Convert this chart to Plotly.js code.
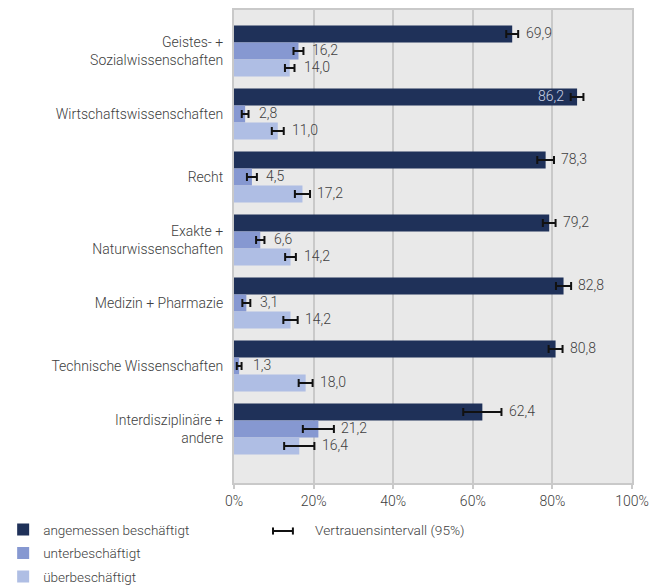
<!DOCTYPE html>
<html>
<head>
<meta charset="utf-8">
<script src="https://cdn.plot.ly/plotly-3.0.1.min.js"></script>
<style>html,body{margin:0;padding:0;background:#fff;}#chart{width:662px;height:585px;}</style>
</head>
<body>
<div id="chart"></div>
<script>
const categories = [
  "Geistes- +<br>Sozialwissenschaften",
  "Wirtschaftswissenschaften",
  "Recht",
  "Exakte +<br>Naturwissenschaften",
  "Medizin + Pharmazie",
  "Technische Wissenschaften",
  "Interdisziplinäre +<br>andere"
];
const seriesNames = ["angemessen beschäftigt", "unterbeschäftigt", "überbeschäftigt"];
const angemessen = [69.9, 86.2, 78.3, 79.2, 82.8, 80.8, 62.4];
const unter      = [16.2, 2.8, 4.5, 6.6, 3.1, 1.3, 21.2];
const ueber      = [14.0, 11.0, 17.2, 14.2, 14.2, 18.0, 16.4];
const errAngemessen = [1.5, 1.6, 2.1, 1.6, 1.9, 1.75, 4.8];
const errUnter      = [1.25, 0.85, 1.25, 1.05, 1.0, 0.6, 3.9];
const errUeber      = [1.2, 1.5, 1.9, 1.35, 1.8, 1.75, 3.8];
const xTicks = [0, 20, 40, 60, 80, 100];
const ciLabel = "Vertrauensintervall (95%)";

const colors = ["#1f3159", "#8698d1", "#afbee4"];
const FONT = "Roboto, 'Noto Sans', sans-serif";
const txtColor = "#404040";

const vals = [angemessen, unter, ueber];
const errs = [errAngemessen, errUnter, errUeber];

const traces = vals.map((v, i) => ({
  type: "bar",
  orientation: "h",
  name: seriesNames[i],
  legendgroup: "g" + i,
  y: categories,
  x: v,
  marker: {color: colors[i], line: {width: 0}},
  error_x: {type: "data", array: errs[i], visible: true, color: "#111", thickness: 2, width: 4},
  hoverinfo: "x+y"
}));

const annotations = [];
const shifts = [17, 0, -17];
vals.forEach((v, i) => {
  v.forEach((val, j) => {
    const e = errs[i][j];
    const label = val.toFixed(1).replace(".", ",");
    if (val > 85) {
      annotations.push({
        x: val - e, y: categories[j], xref: "x", yref: "y",
        text: label, showarrow: false, xanchor: "right", xshift: -5, yshift: shifts[i] + 1,
        font: {family: FONT, size: 14, color: "#c9d1e6", weight: 300}
      });
    } else {
      annotations.push({
        x: Math.max(val + e + 1.3, val + 3), y: categories[j], xref: "x", yref: "y",
        text: label, showarrow: false, xanchor: "left", xshift: 0, yshift: shifts[i] + 1,
        font: {family: FONT, size: 14, color: txtColor, weight: 300}
      });
    }
  });
});

annotations.push({
  x: 0.1985, y: -0.1, xref: "paper", yref: "paper", xanchor: "left", yanchor: "middle",
  text: ciLabel, showarrow: false,
  font: {family: FONT, size: 13.7, color: txtColor, weight: 300}
});

const shapes = [
  {type: "line", xref: "paper", yref: "paper", x0: 0.098, x1: 0.148, y0: -0.1015, y1: -0.1015, line: {color: "#111", width: 2}},
  {type: "line", xref: "paper", yref: "paper", x0: 0.098, x1: 0.098, y0: -0.094, y1: -0.109, line: {color: "#111", width: 2}},
  {type: "line", xref: "paper", yref: "paper", x0: 0.148, x1: 0.148, y0: -0.094, y1: -0.109, line: {color: "#111", width: 2}}
];

const layout = {
  width: 662, height: 585,
  margin: {l: 234, r: 30, t: 10, b: 102, autoexpand: false},
  paper_bgcolor: "#ffffff",
  plot_bgcolor: "#e9e9e9",
  barmode: "group",
  bargap: 0.19,
  bargroupgap: 0,
  font: {family: FONT, size: 14, color: txtColor, weight: 300},
  xaxis: {
    range: [0, 100],
    tickvals: xTicks,
    ticktext: xTicks.map(t => t + "%"),
    showgrid: true, gridcolor: "#c9c9c9", gridwidth: 2,
    showline: true, linecolor: "#c9c9c9", linewidth: 2, mirror: true,
    ticks: "outside", ticklen: 4, tickcolor: "#c9c9c9", tickwidth: 2,
    zeroline: false,
    automargin: false,
    tickfont: {family: FONT, size: 14, color: txtColor, weight: 300},
    fixedrange: true
  },
  yaxis: {
    type: "category",
    categoryorder: "array",
    categoryarray: categories,
    range: [6.857, -0.651],
    showgrid: false,
    showline: true, linecolor: "#c9c9c9", linewidth: 2, mirror: true,
    ticks: "", ticklabelstandoff: 6,
    automargin: false,
    tickfont: {family: FONT, size: 14, color: txtColor, weight: 300},
    fixedrange: true
  },
  showlegend: true,
  legend: {
    orientation: "v",
    x: -0.58, xanchor: "left",
    y: -0.066, yanchor: "top",
    bgcolor: "rgba(0,0,0,0)",
    font: {family: FONT, size: 13.5, color: txtColor, weight: 300},
    tracegroupgap: 3,
    traceorder: "grouped",
    itemwidth: 30
  },
  annotations: annotations,
  shapes: shapes
};

Plotly.newPlot("chart", traces, layout, {displayModeBar: false, staticPlot: true});
</script>
</body>
</html>
